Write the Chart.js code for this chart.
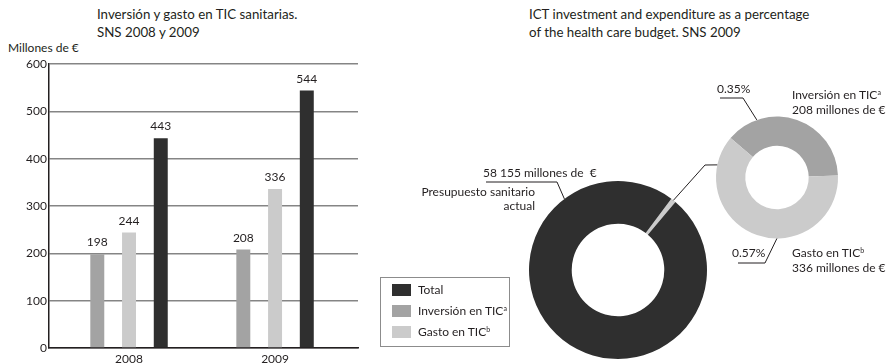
<!DOCTYPE html>
<html>
<head>
<meta charset="utf-8">
<script src="https://cdn.jsdelivr.net/npm/chart.js@4.4.1/dist/chart.umd.min.js"></script>
<style>
  html, body { margin: 0; padding: 0; background: #fff; }
  body { position: relative; width: 886px; height: 364px; overflow: hidden;
         font-family: Lato, "Noto Sans", sans-serif; font-size: 12px; color: #231f20; }
  .txt { position: absolute; white-space: nowrap; line-height: 18px; }
  .title { font-size: 13.3px; }
  canvas { position: absolute; top: 0; }
  sup { font-size: 7px; vertical-align: 4px; line-height: 0; }
  #legend { position: absolute; left: 380px; top: 277px; width: 128px; height: 68px;
            border: 1px solid #8c8c8c; }
  #legend .sw { position: absolute; left: 11px; width: 19px; height: 12px; }
  #legend .lb { position: absolute; left: 37px; line-height: 14px; white-space: nowrap; }
</style>
</head>
<body>

<div class="txt title" style="left:97px;top:5px">Inversión y gasto en TIC sanitarias.<br>SNS 2008 y 2009</div>
<div class="txt" style="left:8px;top:39px">Millones de €</div>
<div class="txt title" style="left:529px;top:5px">ICT investment and expenditure as a percentage<br>of the health care budget. SNS 2009</div>

<canvas id="barChart" width="370" height="364" style="left:0"></canvas>
<canvas id="budgetChart" width="516" height="364" style="left:370px"></canvas>
<canvas id="ictChart" width="516" height="364" style="left:370px"></canvas>

<div class="txt" style="left:483px;top:164px">58 155 millones de&nbsp; €</div>
<div class="txt" style="right:351px;top:185px;line-height:14px;text-align:right">Presupuesto sanitario<br>actual</div>
<div class="txt" style="left:717px;top:80px">0.35%</div>
<div class="txt" style="left:792px;top:87px;line-height:15px">Inversión en TIC<sup>a</sup><br>208 millones de €</div>
<div class="txt" style="left:732px;top:244px">0.57%</div>
<div class="txt" style="left:792px;top:245px;line-height:15px">Gasto en TIC<sup>b</sup><br>336 millones de €</div>

<div id="legend"></div>

<script>
// values in millions of euros
const years = ['2008', '2009'];
const inversionTIC = [198, 208];
const gastoTIC = [244, 336];
const totalTIC = [443, 544];

const budget2009 = 58155;
const inversion2009 = 208;
const gasto2009 = 336;

const seriesNames = ['Total', 'Inversión en TIC', 'Gasto en TIC'];
const seriesNotes = ['', 'a', 'b'];
const seriesColors = ['#2f2f2f', '#a3a3a3', '#cbcbcb'];

const textColor = '#231f20';
const font = { family: 'Lato, "Noto Sans", sans-serif', size: 12 };

// legend box, same order as the series list
const legend = document.getElementById('legend');
seriesNames.forEach((name, i) => {
    const top = 12 + 21 * i;
    const sw = document.createElement('div');
    sw.className = 'sw';
    sw.style.top = (top - 6) + 'px';
    sw.style.background = seriesColors[i];
    const lb = document.createElement('div');
    lb.className = 'lb';
    lb.style.top = (top - 7) + 'px';
    lb.innerHTML = name + (seriesNotes[i] ? '<sup>' + seriesNotes[i] + '</sup>' : '');
    legend.appendChild(sw);
    legend.appendChild(lb);
});

// number printed above every bar
const barValueLabels = {
    id: 'barValueLabels',
    afterDatasetsDraw(chart) {
        const ctx = chart.ctx;
        ctx.save();
        ctx.font = `${font.size}px ${font.family}`;
        ctx.fillStyle = textColor;
        ctx.textAlign = 'center';
        chart.data.datasets.forEach((ds, i) => {
            chart.getDatasetMeta(i).data.forEach((bar, j) => {
                ctx.fillText(ds.data[j], bar.x, bar.y - 8);
            });
        });
        ctx.restore();
    }
};

// point on the outer edge of a doughnut slice
function arcPoint(a) {
    const arc = Chart.getChart(a.ring).getDatasetMeta(0).data[a.index];
    const ang = arc.startAngle + a.frac * (arc.endAngle - arc.startAngle);
    return [arc.x + Math.cos(ang) * arc.outerRadius, arc.y + Math.sin(ang) * arc.outerRadius];
}

// callout lines: plain points are page coordinates, objects sit on a slice
const leaderLines = {
    id: 'leaderLines',
    afterDraw(chart, args, opts) {
        const dx = chart.canvas.offsetLeft;
        const ctx = chart.ctx;
        ctx.save();
        ctx.strokeStyle = textColor;
        ctx.lineWidth = 1;
        (opts.lines || []).forEach(line => {
            ctx.beginPath();
            line.forEach((p, k) => {
                const [x, y] = Array.isArray(p) ? [p[0] - dx, p[1]] : arcPoint(p);
                if (k) ctx.lineTo(x, y); else ctx.moveTo(x, y);
            });
            ctx.stroke();
        });
        ctx.restore();
    }
};

new Chart('barChart', {
    type: 'bar',
    data: {
        labels: years,
        datasets: [
            { label: seriesNames[1], data: inversionTIC, backgroundColor: seriesColors[1] },
            { label: seriesNames[2], data: gastoTIC, backgroundColor: seriesColors[2] },
            { label: seriesNames[0], data: totalTIC, backgroundColor: seriesColors[0] }
        ]
    },
    options: {
        responsive: false,
        animation: false,
        datasets: { bar: { categoryPercentage: 0.652, barPercentage: 0.44 } },
        layout: { padding: { top: 64, right: 12, left: 0, bottom: 0 } },
        plugins: { legend: { display: false }, tooltip: { enabled: false } },
        scales: {
            x: {
                type: 'linear',
                min: 2007.452,
                max: 2009.568,
                offset: false,
                grid: { display: false, drawTicks: false, offset: false },
                border: { color: textColor, width: 1.5 },
                afterBuildTicks: s => { s.ticks = years.map(y => ({ value: Number(y) })); },
                afterFit: s => { s.height = 16; },
                ticks: { callback: v => String(v), font, color: textColor, padding: 4, maxRotation: 0, autoSkip: false }
            },
            y: {
                min: 0,
                max: 600,
                grid: { color: '#858585', lineWidth: 1.4, drawTicks: false },
                border: { color: textColor, width: 1.5 },
                afterFit: s => { s.width = 49; },
                ticks: { stepSize: 100, font, color: textColor, padding: 2 }
            }
        }
    },
    plugins: [barValueLabels]
});

// whole 2009 budget, ICT share as a thin slice
new Chart('budgetChart', {
    type: 'doughnut',
    data: {
        labels: ['TIC', 'Presupuesto sanitario actual'],
        datasets: [{
            data: [inversion2009 + gasto2009, budget2009 - inversion2009 - gasto2009],
            backgroundColor: [seriesColors[2], seriesColors[0]],
            borderWidth: 0
        }]
    },
    options: {
        responsive: false,
        animation: false,
        rotation: 36.8,
        radius: 89,
        cutout: '52%',
        layout: { padding: { left: 158, right: 178, top: 180, bottom: 4 } },
        plugins: {
            legend: { display: false },
            tooltip: { enabled: false },
            leaderLines: { lines: [[[486, 182], [557, 182], { ring: 'budgetChart', index: 1, frac: 0.793 }]] }
        }
    },
    plugins: [leaderLines]
});

// ICT split: investment vs expenditure
new Chart('ictChart', {
    type: 'doughnut',
    data: {
        labels: [seriesNames[1], seriesNames[2]],
        datasets: [{
            data: [inversion2009, gasto2009],
            backgroundColor: [seriesColors[1], seriesColors[2]],
            borderWidth: 0
        }]
    },
    options: {
        responsive: false,
        animation: false,
        rotation: -49.6,
        radius: 61,
        cutout: '52%',
        layout: { padding: { left: 345, right: 47, top: 115.5, bottom: 124.5 } },
        plugins: {
            legend: { display: false },
            tooltip: { enabled: false },
            leaderLines: {
                lines: [
                    [[720, 98], [743, 98], { ring: 'ictChart', index: 0, frac: 0.22 }],
                    [[738, 263], [765, 263], { ring: 'ictChart', index: 1, frac: 0.414 }],
                    [{ ring: 'ictChart', index: 1, frac: 0.872 }, [705, 165], { ring: 'budgetChart', index: 0, frac: 0.5 }]
                ]
            }
        }
    },
    plugins: [leaderLines]
});
</script>
</body>
</html>
